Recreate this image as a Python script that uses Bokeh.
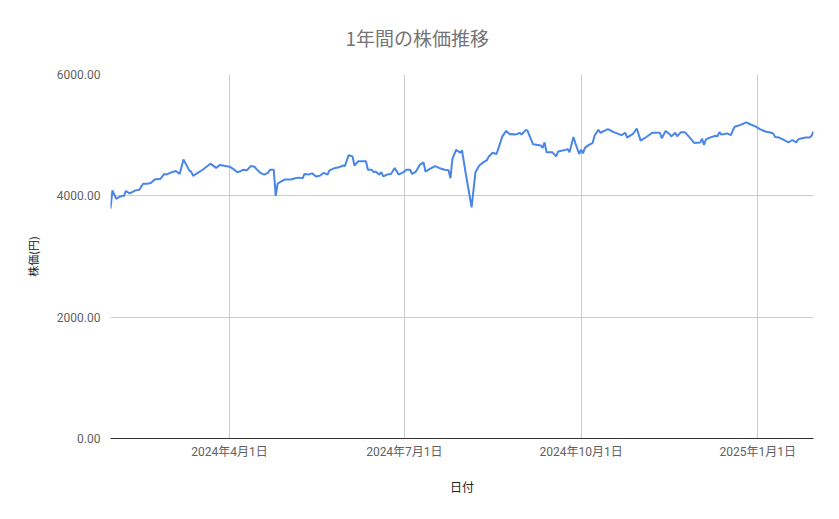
import pandas as pd
from bokeh.plotting import figure
from bokeh.models import ColumnDataSource, FixedTicker, Range1d, NumeralTickFormatter
from bokeh.embed import file_html
from bokeh.resources import INLINE

# ---- data ----
dates = [
    "2024-01-30", "2024-01-31", "2024-02-02", "2024-02-04", "2024-02-06", "2024-02-07", "2024-02-09",
    "2024-02-12", "2024-02-14", "2024-02-16", "2024-02-18", "2024-02-20", "2024-02-22", "2024-02-25",
    "2024-02-27", "2024-02-28", "2024-03-02", "2024-03-04", "2024-03-06", "2024-03-08", "2024-03-11",
    "2024-03-12", "2024-03-13", "2024-03-18", "2024-03-22", "2024-03-25", "2024-03-27", "2024-04-01",
    "2024-04-03", "2024-04-05", "2024-04-07", "2024-04-08", "2024-04-10", "2024-04-12", "2024-04-14",
    "2024-04-15", "2024-04-17", "2024-04-19", "2024-04-21", "2024-04-22", "2024-04-24", "2024-04-25",
    "2024-04-26", "2024-04-28", "2024-04-30", "2024-05-03", "2024-05-05", "2024-05-07", "2024-05-09",
    "2024-05-10", "2024-05-12", "2024-05-14", "2024-05-16", "2024-05-18", "2024-05-20", "2024-05-22",
    "2024-05-23", "2024-05-26", "2024-05-28", "2024-05-30", "2024-05-31", "2024-06-02", "2024-06-04",
    "2024-06-05", "2024-06-07", "2024-06-11", "2024-06-12", "2024-06-14", "2024-06-15", "2024-06-16",
    "2024-06-18", "2024-06-19", "2024-06-20", "2024-06-22", "2024-06-24", "2024-06-26", "2024-06-28",
    "2024-07-01", "2024-07-02", "2024-07-04", "2024-07-05", "2024-07-07", "2024-07-09", "2024-07-11",
    "2024-07-12", "2024-07-14", "2024-07-17", "2024-07-19", "2024-07-22", "2024-07-24", "2024-07-25",
    "2024-07-26", "2024-07-28", "2024-07-30", "2024-07-31", "2024-08-02", "2024-08-05", "2024-08-07",
    "2024-08-09", "2024-08-11", "2024-08-13", "2024-08-14", "2024-08-16", "2024-08-18", "2024-08-21",
    "2024-08-23", "2024-08-25", "2024-08-26", "2024-08-27", "2024-08-29", "2024-08-30", "2024-08-31",
    "2024-09-02", "2024-09-03", "2024-09-06", "2024-09-10", "2024-09-11", "2024-09-12", "2024-09-13",
    "2024-09-16", "2024-09-18", "2024-09-19", "2024-09-22", "2024-09-24", "2024-09-25", "2024-09-27",
    "2024-09-28", "2024-09-30", "2024-10-01", "2024-10-02", "2024-10-03", "2024-10-05", "2024-10-07",
    "2024-10-08", "2024-10-10", "2024-10-11", "2024-10-15", "2024-10-18", "2024-10-22", "2024-10-24",
    "2024-10-25", "2024-10-28", "2024-10-30", "2024-11-01", "2024-11-04", "2024-11-07", "2024-11-09",
    "2024-11-11", "2024-11-12", "2024-11-14", "2024-11-16", "2024-11-17", "2024-11-19", "2024-11-20",
    "2024-11-22", "2024-11-24", "2024-11-26", "2024-11-29", "2024-12-02", "2024-12-03", "2024-12-04",
    "2024-12-05", "2024-12-07", "2024-12-10", "2024-12-11", "2024-12-12", "2024-12-13", "2024-12-15",
    "2024-12-16", "2024-12-18", "2024-12-19", "2024-12-20", "2024-12-23", "2024-12-26", "2024-12-28",
    "2024-12-31", "2025-01-02", "2025-01-05", "2025-01-08", "2025-01-09", "2025-01-10", "2025-01-12",
    "2025-01-14", "2025-01-17", "2025-01-18", "2025-01-19", "2025-01-21", "2025-01-22", "2025-01-24",
    "2025-01-26", "2025-01-28", "2025-01-29", "2025-01-30",
]
prices = [
    3790, 4090, 3950, 3990, 4000, 4080, 4040,
    4090, 4100, 4200, 4200, 4210, 4270, 4280,
    4360, 4350, 4390, 4410, 4360, 4600, 4420,
    4400, 4330, 4430, 4530, 4460, 4510, 4480,
    4440, 4390, 4410, 4430, 4420, 4490, 4480,
    4440, 4380, 4350, 4380, 4430, 4430, 4000,
    4200, 4240, 4270, 4270, 4290, 4300, 4290,
    4360, 4350, 4370, 4320, 4330, 4380, 4350,
    4420, 4460, 4470, 4500, 4490, 4670, 4650,
    4500, 4570, 4570, 4430, 4430, 4390, 4400,
    4350, 4390, 4320, 4350, 4360, 4460, 4350,
    4400, 4430, 4430, 4360, 4400, 4510, 4550,
    4400, 4440, 4490, 4460, 4430, 4420, 4290,
    4610, 4760, 4710, 4750, 4360, 3810, 4390,
    4500, 4550, 4590, 4650, 4710, 4690, 4980,
    5070, 5010, 5020, 5010, 5020, 5040, 5010,
    5080, 5080, 4850, 4830, 4790, 4880, 4720,
    4720, 4650, 4730, 4750, 4770, 4720, 4970,
    4870, 4690, 4760, 4700, 4790, 4840, 4870,
    4990, 5090, 5040, 5100, 5050, 5000, 5040,
    4960, 5020, 5110, 4910, 4970, 5040, 5040,
    5040, 4950, 5070, 5020, 4980, 5040, 4980,
    5050, 5050, 4980, 4870, 4880, 4940, 4840,
    4930, 4960, 4990, 4980, 5050, 5010, 5020,
    5030, 5000, 5080, 5140, 5170, 5210, 5180,
    5140, 5100, 5060, 5040, 5030, 4970, 4960,
    4930, 4880, 4900, 4920, 4880, 4930, 4950,
    4960, 4960, 4990, 5060,
]
x_tick_dates = ["2024-04-01", "2024-07-01", "2024-10-01", "2025-01-01"]
x_tick_labels = ["2024年4月1日", "2024年7月1日", "2024年10月1日", "2025年1月1日"]
y_ticks = [0, 2000, 4000, 6000]
x_start, x_end = "2024-01-30", "2025-01-30"

# ---- figure ----
def ms(d):
    return int(pd.Timestamp(d).value // 10**6)

source = ColumnDataSource(dict(date=pd.to_datetime(dates), price=prices))

JP = "'Noto Sans CJK JP', 'Noto Sans', sans-serif"
NUM = "Roboto, 'Noto Sans CJK JP', sans-serif"

p = figure(
    width=823, height=503, x_axis_type="datetime",
    output_backend="svg", toolbar_location=None,
    min_border_left=110, min_border_right=10, min_border_top=74, min_border_bottom=65,
    x_range=Range1d(pd.Timestamp(x_start), pd.Timestamp(x_end)),
    y_range=Range1d(0, 6000),
    title="1年間の株価推移",
)
p.outline_line_color = None
p.background_fill_color = "white"
p.border_fill_color = "white"

p.title.text_font = JP
p.title.text_font_size = "19px"
p.title.text_font_style = "normal"
p.title.text_color = "#757575"
p.title.align = "left"
p.title.offset = 235
p.title.standoff = 43
p.title.vertical_align = "top"

p.line("date", "price", source=source, line_color="#4a86e8", line_width=2)

# x axis
xa = p.xaxis[0]
tick_ms = [ms(d) for d in x_tick_dates]
xa.ticker = FixedTicker(ticks=tick_ms)
xa.major_label_overrides = {t: lab for t, lab in zip(tick_ms, x_tick_labels)}
xa.axis_line_color = "#333333"
xa.axis_line_width = 1
xa.major_tick_line_color = None
xa.minor_tick_line_color = None
xa.major_label_text_font = NUM
xa.major_label_text_font_size = "12px"
xa.major_label_text_color = "#616161"
xa.major_label_standoff = 0
xa.axis_label = "日付"
xa.axis_label_text_font = JP
xa.axis_label_text_font_size = "12px"
xa.axis_label_text_font_style = "normal"
xa.axis_label_text_color = "#222222"
xa.axis_label_standoff = 16

# y axis
ya = p.yaxis[0]
ya.ticker = FixedTicker(ticks=y_ticks)
ya.formatter = NumeralTickFormatter(format="0.00")
ya.axis_line_color = None
ya.major_tick_line_color = None
ya.minor_tick_line_color = None
ya.major_label_text_font = NUM
ya.major_label_text_font_size = "12px"
ya.major_label_text_color = "#616161"
ya.major_label_standoff = 4
ya.axis_label = "株価(円)"
ya.axis_label_text_font = JP
ya.axis_label_text_font_size = "11px"
ya.axis_label_text_font_style = "normal"
ya.axis_label_text_color = "#222222"
ya.axis_label_standoff = 13

p.xgrid.grid_line_color = "#cccccc"
p.ygrid.grid_line_color = "#cccccc"
p.xgrid.ticker = FixedTicker(ticks=tick_ms)
p.ygrid.ticker = FixedTicker(ticks=y_ticks)

open("out.html", "w").write(file_html(p, INLINE))
